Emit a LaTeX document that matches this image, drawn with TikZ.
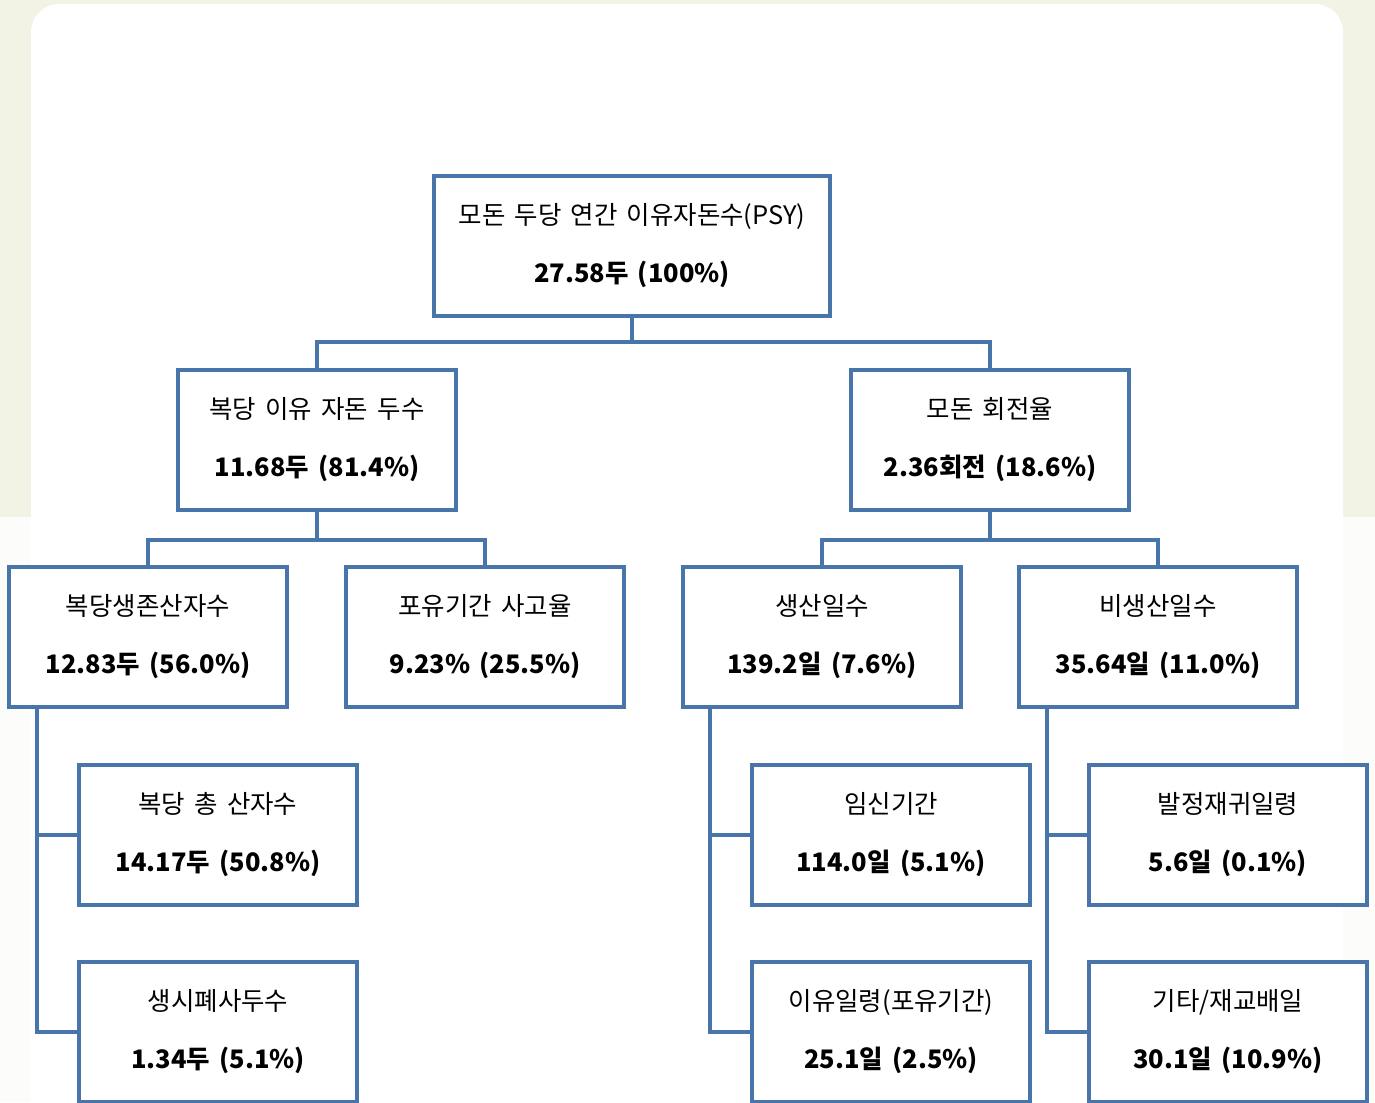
\documentclass[tikz,border=0pt]{standalone}
\usepackage{fontspec}
\setmainfont[WordSpace=1.6]{Noto Sans CJK KR}
\usetikzlibrary{positioning}

\definecolor{boxblue}{RGB}{72,117,170}
\definecolor{cream}{RGB}{242,243,229}
\definecolor{paleback}{RGB}{252,252,250}

\begin{document}
\begin{tikzpicture}[x=0.02cm, y=-0.02cm,
  box/.style={rectangle, draw=boxblue, line width=0.08cm, fill=white,
    minimum width=5.56cm, minimum height=2.8cm, inner sep=0pt,
    align=center, font=\fontsize{14.5pt}{33pt}\selectfont},
  link/.style={draw=boxblue, line width=0.08cm}]

\clip (0,0) rectangle (1375,1102);

% sfondo
\fill[cream] (0,0) rectangle (1375,517);
\fill[paleback] (0,517) rectangle (1375,1102);
\fill[white, rounded corners=0.56cm] (31,4) rectangle (1343,1160);

% livello 1
\node[box, minimum width=7.92cm] (psy) at (632,246) {모돈 두당 연간 이유자돈수(PSY)\\\textbf{27.58두 (100\%)}};

% livello 2
\node[box] (litter) at (317,440) {복당 이유 자돈 두수\\\textbf{11.68두 (81.4\%)}};
\node[box] (turnover) at (990,440) {모돈 회전율\\\textbf{2.36회전 (18.6\%)}};

% livello 3
\node[box] (survive) at (148,637) {복당생존산자수\\\textbf{12.83두 (56.0\%)}};
\node[box] (preloss) at (485,637) {포유기간 사고율\\\textbf{9.23\% (25.5\%)}};
\node[box] (prod) at (822,637) {생산일수\\\textbf{139.2일 (7.6\%)}};
\node[box] (nonprod) at (1158,637) {비생산일수\\\textbf{35.64일 (11.0\%)}};

% livello 4
\node[box] (total) at (218,835) {복당 총 산자수\\\textbf{14.17두 (50.8\%)}};
\node[box] (stillborn) at (218,1032) {생시폐사두수\\\textbf{1.34두 (5.1\%)}};
\node[box] (gest) at (891,835) {임신기간\\\textbf{114.0일 (5.1\%)}};
\node[box] (wean) at (891,1032) {이유일령(포유기간)\\\textbf{25.1일 (2.5\%)}};
\node[box] (estrus) at (1228,835) {발정재귀일령\\\textbf{5.6일 (0.1\%)}};
\node[box] (other) at (1228,1032) {기타/재교배일\\\textbf{30.1일 (10.9\%)}};

% collegamenti
\draw[link] (psy.south) -- ++(0,24) -| (litter.north);
\draw[link] (psy.south) -- ++(0,24) -| (turnover.north);
\draw[link] (litter.south) -- ++(0,28) -| (survive.north);
\draw[link] (litter.south) -- ++(0,28) -| (preloss.north);
\draw[link] (turnover.south) -- ++(0,28) -| (prod.north);
\draw[link] (turnover.south) -- ++(0,28) -| (nonprod.north);
\draw[link] (survive.south west) ++(30,0) |- (total.west);
\draw[link] (survive.south west) ++(30,0) |- (stillborn.west);
\draw[link] (prod.south west) ++(29,0) |- (gest.west);
\draw[link] (prod.south west) ++(29,0) |- (wean.west);
\draw[link] (nonprod.south west) ++(30,0) |- (estrus.west);
\draw[link] (nonprod.south west) ++(30,0) |- (other.west);
\end{tikzpicture}
\end{document}
